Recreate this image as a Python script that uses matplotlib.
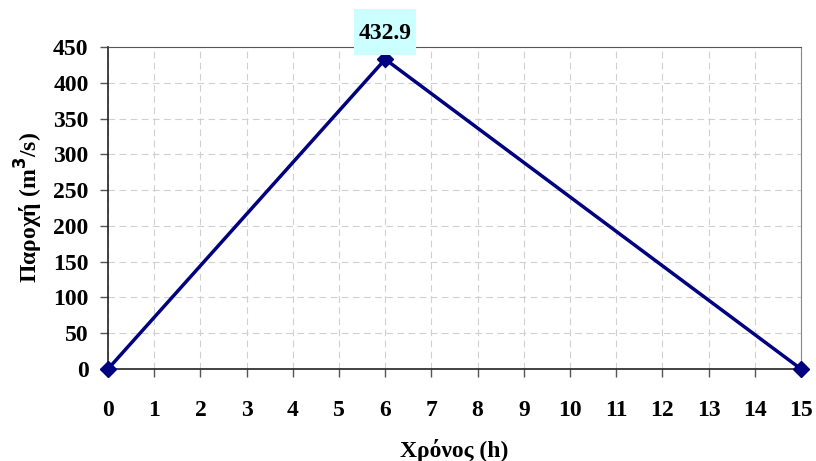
import matplotlib
matplotlib.use('Agg')
import matplotlib.pyplot as plt
from matplotlib.patches import Rectangle
from matplotlib.transforms import ScaledTranslation

# hydrograph points
time_h = [0, 6, 15]
flow = [0, 432.9, 0]
peak_label = '432.9'

xticks = list(range(0, 16))
yticks = list(range(0, 451, 50))

plt.rcParams['font.family'] = ['Liberation Serif', 'DejaVu Serif']
plt.rcParams['font.weight'] = 'bold'

fig = plt.figure(figsize=(8.16, 4.61), dpi=100)
ax = fig.add_axes([108 / 816, 1 - 369 / 461, (801 - 108) / 816, (369 - 47) / 461])

ax.plot(time_h, flow, color='#000080', linewidth=2.5, marker='D', markersize=8,
        clip_on=False, zorder=3)

# peak label in a cyan box, sized in inches around the peak point
peak_trans = fig.dpi_scale_trans + ScaledTranslation(time_h[1], flow[1], ax.transData)
box = Rectangle((-0.31, 0.04), 0.62, 0.46, transform=peak_trans, facecolor='#ccffff',
                edgecolor='none', clip_on=False, zorder=4)
ax.add_patch(box)
ax.text(0, 0.255, peak_label, transform=peak_trans, ha='center', va='center',
        fontsize=17, fontweight='bold', zorder=5, clip_on=False)

ax.set_xlim(0, 15)
ax.set_ylim(0, 450)
ax.set_xticks(xticks)
ax.set_yticks(yticks)
ax.tick_params(axis='both', labelsize=17, direction='out', length=6, width=1, color='#555555')
ax.tick_params(axis='x', pad=16)
ax.tick_params(axis='y', pad=8)
for lbl in ax.get_xticklabels() + ax.get_yticklabels():
    lbl.set_fontweight('bold')

ax.grid(True, linestyle=(0, (6, 4)), color='#d0d0d0', linewidth=0.8)
ax.set_axisbelow(True)

ax.spines['top'].set_color('#555555')
ax.spines['right'].set_color('#888888')
for side in ['left', 'bottom']:
    ax.spines[side].set_color('#222222')
    ax.spines[side].set_linewidth(1.2)

ax.set_xlabel('Χρόνος (h)', fontsize=17, fontweight='bold', labelpad=13)
ax.set_ylabel('Παροχή (m$^\\mathbf{3}$/s)', fontsize=17, fontweight='bold', labelpad=6)

fig.savefig('out.png', dpi=100)
